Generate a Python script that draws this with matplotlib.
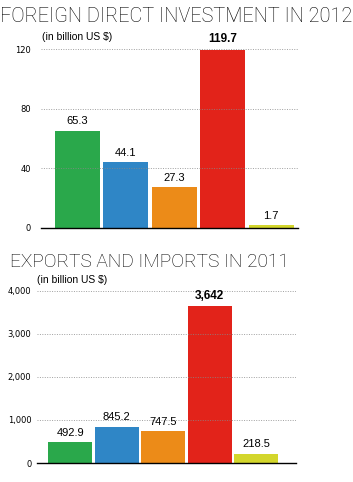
import matplotlib
matplotlib.use("Agg")
import matplotlib.pyplot as plt

# data
colors = ["#2aa84b", "#2f86c6", "#ec8b18", "#e2231a", "#d3d62c"]

fdi_values = [65.3, 44.1, 27.3, 119.7, 1.7]
fdi_labels = ["65.3", "44.1", "27.3", "119.7", "1.7"]
fdi_ticks = [0, 40, 80, 120]

trade_values = [492.9, 845.2, 747.5, 3642, 218.5]
trade_labels = ["492.9", "845.2", "747.5", "3,642", "218.5"]
trade_ticks = [0, 1000, 2000, 3000, 4000]

plt.rcParams["font.family"] = ["Liberation Sans", "DejaVu Sans"]

fig = plt.figure(figsize=(3.53, 4.82), dpi=100)


def draw_panel(rect, values, labels, ticks, ymax, xlim, width, tick_fmt, pad):
    ax = fig.add_axes(rect)
    x = list(range(len(values)))
    ax.bar(x, values, width=width, color=colors, zorder=2)
    for t in ticks[1:]:
        ax.axhline(t, color="#888888", lw=0.7, ls=(0, (1, 1.5)), zorder=3, alpha=0.8)
    ax.set_ylim(0, ymax)
    ax.set_xlim(*xlim)
    ax.set_yticks(ticks)
    ax.set_yticklabels([tick_fmt(t) for t in ticks], fontsize=6, fontfamily="DejaVu Sans")
    ax.tick_params(axis="y", length=0, pad=pad)
    ax.set_xticks([])
    for s in ["top", "right", "left"]:
        ax.spines[s].set_visible(False)
    ax.spines["bottom"].set_linewidth(1.0)
    big = max(values)
    for xi, v, lab in zip(x, values, labels):
        bold = v == big
        ax.text(xi, v + ymax * 0.025, lab, ha="center", va="bottom",
                fontsize=8 if not bold else 8.5,
                fontweight="bold" if bold else "normal", zorder=4)
    return ax


ax1 = draw_panel([0.116, 0.527, 0.728, 0.371], fdi_values, fdi_labels, fdi_ticks,
                 120, (-0.754, 4.556), 0.93, lambda t: f"{t}", 7)
ax2 = draw_panel([0.105, 0.0394, 0.734, 0.357], trade_values, trade_labels, trade_ticks,
                 4000, (-0.71, 4.86), 0.946, lambda t: f"{t:,}", 4)

title_font = ["Roboto", "DejaVu Sans"]
fig.text(0.5, 0.965, "FOREIGN DIRECT INVESTMENT IN 2012", ha="center", va="center",
         fontsize=14.3, fontfamily=title_font, fontweight="light", color="black")
fig.text(0.119, 0.923, "(in billion US $)", ha="left", va="center", fontsize=7.5)

fig.text(0.028, 0.457, "EXPORTS AND IMPORTS IN 2011", ha="left", va="center",
         fontsize=13.8, fontfamily=title_font, fontweight="light", color="black")
fig.text(0.105, 0.419, "(in billion US $)", ha="left", va="center", fontsize=7.5)

fig.savefig("out.png", dpi=100)
